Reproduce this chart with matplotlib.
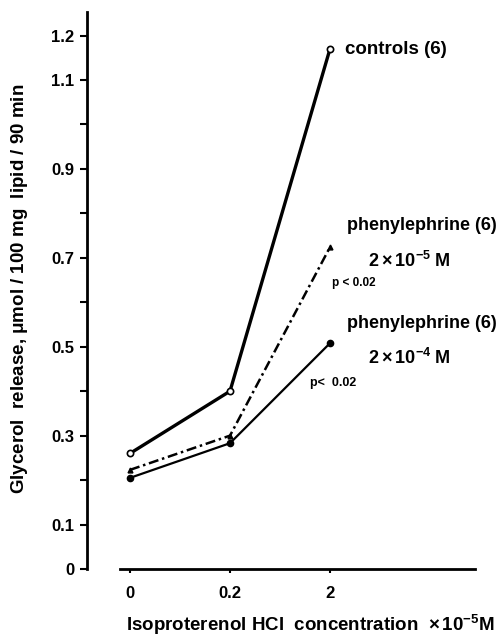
import matplotlib
matplotlib.use("Agg")
import matplotlib.pyplot as plt
from matplotlib.ticker import FixedLocator, NullFormatter

FAM = 'Liberation Sans'
plt.rcParams['font.family'] = [FAM, 'DejaVu Sans']
plt.rcParams['font.weight'] = 'bold'
plt.rcParams['axes.labelweight'] = 'bold'
plt.rcParams['mathtext.fontset'] = 'custom'
plt.rcParams['mathtext.rm'] = FAM + ':bold'
plt.rcParams['mathtext.it'] = FAM + ':bold'
plt.rcParams['mathtext.bf'] = FAM + ':bold'

categories = ["0", "0.2", "2"]
controls = [0.26, 0.40, 1.17]
phen_2e5 = [0.223, 0.30, 0.724]
phen_2e4 = [0.205, 0.283, 0.508]
y_major = [0, 0.1, 0.3, 0.5, 0.7, 0.9, 1.1, 1.2]
y_minor = [0.2, 0.4, 0.6, 0.8, 1.0]
y_labels = ["0", "0.1", "0.3", "0.5", "0.7", "0.9", "1.1", "1.2"]

W, H = 501, 639
fig = plt.figure(figsize=(W / 100, H / 100), dpi=100)
ax = fig.add_axes([87 / W, 1 - 569 / H, (475 - 87) / W, (569 - 12) / H])

x = list(range(len(categories)))
ax.plot(x, controls, color='black', lw=2.4, ls='-', marker='o', ms=4.5,
        mfc='white', mec='black', mew=1.2, zorder=3)
ax.plot(x, phen_2e5, color='black', lw=1.8, ls=(0, (4, 1.5, 1, 1.5)),
        marker='^', ms=3.5, mfc='black', mec='black', zorder=3)
ax.plot(x, phen_2e4, color='black', lw=1.6, ls='-', marker='o', ms=4.5,
        mfc='black', mec='black', zorder=3)

ax.set_xlim(-0.43, 3.45)
ax.set_ylim(0, 1.253)

for s in ['top', 'right']:
    ax.spines[s].set_visible(False)
ax.spines['left'].set_linewidth(2.0)
ax.spines['bottom'].set_linewidth(2.0)
ax.spines['bottom'].set_bounds(-0.1, 3.45)

ax.set_xticks(x)
ax.set_xticklabels(categories, fontsize=12)
ax.yaxis.set_major_locator(FixedLocator(y_major))
ax.set_yticklabels(y_labels, fontsize=12)
ax.yaxis.set_minor_locator(FixedLocator(y_minor))
ax.yaxis.set_minor_formatter(NullFormatter())
ax.tick_params(axis='y', which='both', direction='out', length=5, width=1.5, pad=4)
ax.tick_params(axis='x', direction='out', length=3, width=1.5, pad=9)

ax.set_ylabel(r"Glycerol  release, $\mu$mol / 100 mg  lipid / 90 min",
              fontsize=13.5)
ax.yaxis.set_label_coords(-(87 - 20) / (475 - 87), (569 - 289) / (569 - 12))
ax.set_xlabel(r"Isoproterenol HCl  concentration  $\times\,10^{-5}$M",
              fontsize=13.5)
ax.xaxis.set_label_coords((310 - 87) / (475 - 87), -(625 - 569) / (569 - 12))
ax.xaxis.label.set_va('center')
ax.yaxis.label.set_va('center')

def px(xp, yp):
    return (xp / W, 1 - yp / H)

fig.text(*px(345, 49), "controls (6)", fontsize=13.5, va='center', ha='left')
fig.text(*px(347, 225), "phenylephrine (6)", fontsize=13, va='center', ha='left')
fig.text(*px(409, 261), r"$2\times10^{-5}$ M", fontsize=13, va='center', ha='center')
fig.text(*px(332, 283), "p < 0.02", fontsize=8.5, va='center', ha='left')
fig.text(*px(347, 323), "phenylephrine (6)", fontsize=13, va='center', ha='left')
fig.text(*px(409, 358), r"$2\times10^{-4}$ M", fontsize=13, va='center', ha='center')
fig.text(*px(310, 383), "p<  0.02", fontsize=9, va='center', ha='left')

fig.savefig("out.png", dpi=100)
